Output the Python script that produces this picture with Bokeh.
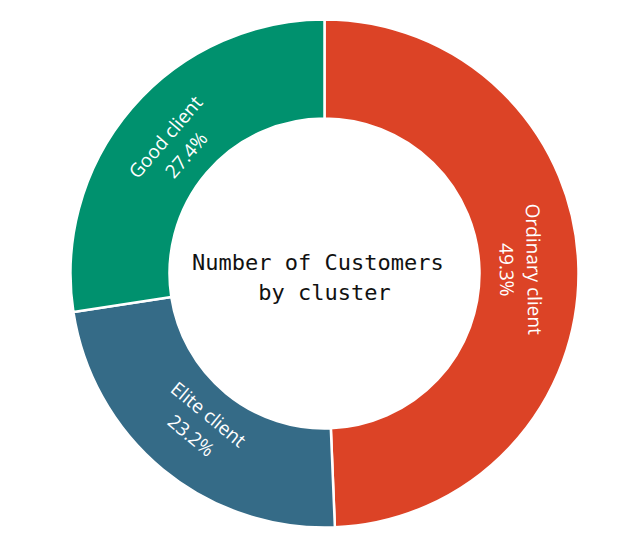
import numpy as np
from bokeh.plotting import figure
from bokeh.models import ColumnDataSource
from bokeh.core.properties import value
from bokeh.embed import file_html
from bokeh.resources import INLINE

# ---- data ----
categories = ["Ordinary client", "Elite client", "Good client"]
shares = [49.3, 23.2, 27.4]
colors = ["#dc4326", "#356b87", "#00916e"]
center_title = "Number of Customers \nby cluster"

# ---- geometry ----
W, H = 628, 550
cx, cy = 324, H - 273
r_out, r_in = 254, 155
r_lab = 196

vals = np.array(shares, dtype=float)
frac = vals / vals.sum()
cum = np.concatenate([[0.0], np.cumsum(frac)])
start = np.pi / 2 - cum[:-1] * 2 * np.pi
end = np.pi / 2 - cum[1:] * 2 * np.pi
mid = (start + end) / 2

lab_x = cx + r_lab * np.cos(mid)
lab_y = cy + r_lab * np.sin(mid)
rot = mid - np.pi / 2
rot = np.mod(rot + np.pi / 2, np.pi) - np.pi / 2
labels = [f"{c}\n{v:.1f}%" for c, v in zip(categories, shares)]

src = ColumnDataSource(dict(start=start, end=end, color=colors,
                            lx=lab_x, ly=lab_y, rot=rot, label=labels))

p = figure(width=W, height=H, x_range=(0, W), y_range=(0, H),
           output_backend="svg", toolbar_location=None, min_border=0)
p.axis.visible = False
p.grid.visible = False
p.outline_line_color = None
p.background_fill_color = "white"

p.annular_wedge(x=cx, y=cy, inner_radius=r_in, outer_radius=r_out,
                start_angle="start", end_angle="end", direction="clock",
                fill_color="color", line_color="white", line_width=2.5,
                source=src)

p.text(x="lx", y="ly", text="label", angle="rot", source=src,
       text_font=value("Open Sans"), text_font_size="19px",
       text_color="white", text_align="center", text_baseline="middle",
       text_line_height=1.05)

p.text(x=[cx], y=[H - 277], text=[center_title],
       text_font=value("DejaVu Sans Mono"), text_font_size="22px",
       text_color="#111111", text_align="center", text_baseline="middle",
       text_line_height=1.2)

open("out.html", "w").write(file_html(p, INLINE))
